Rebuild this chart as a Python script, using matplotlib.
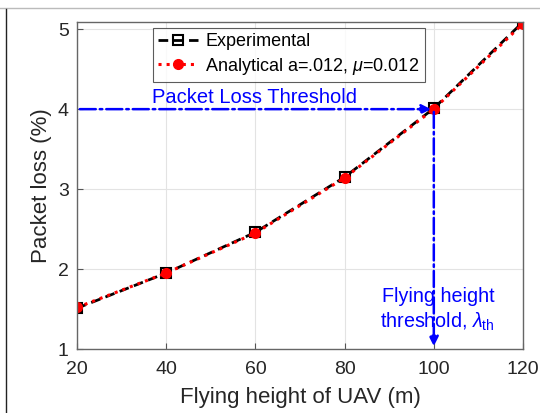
import numpy as np
import matplotlib.pyplot as plt
from matplotlib.lines import Line2D

# datos
altura = [20, 40, 60, 80, 100, 120]
perdida_exp = [1.51, 1.95, 2.46, 3.15, 4.01, 5.09]
perdida_ana = [1.52, 1.95, 2.45, 3.14, 4.00, 5.07]
umbral_perdida = 4.0
umbral_altura = 100

plt.rcParams['font.family'] = ['Liberation Sans', 'DejaVu Sans']
plt.rcParams['mathtext.fontset'] = 'custom'
plt.rcParams['mathtext.it'] = 'Liberation Sans:italic'
plt.rcParams['mathtext.rm'] = 'Liberation Sans'

fig = plt.figure(figsize=(5.4, 4.13), dpi=100)
ax = fig.add_axes([77/540, 1 - 349/413, (523 - 77)/540, (349 - 22)/413])

ax.plot(altura, perdida_exp, 'k--', lw=2, marker='s', ms=7.5, mfc='none', mec='k',
        mew=1.5, label='Experimental', dashes=(3.5, 2))
ax.plot(altura, perdida_ana, ':', color='red', lw=2.2, marker='o', ms=7,
        mfc='red', mec='red', label=r'Analytical a=.012, $\mu$=0.012')

# flechas de umbral
ax.annotate('', xy=(umbral_altura, umbral_perdida), xytext=(20, umbral_perdida),
            arrowprops=dict(arrowstyle='-|>', color='blue', lw=1.8,
                            linestyle='-.', mutation_scale=14))
ax.annotate('', xy=(umbral_altura, 1.0), xytext=(umbral_altura, umbral_perdida),
            arrowprops=dict(arrowstyle='-|>', color='blue', lw=1.8,
                            linestyle='-.', mutation_scale=14))
ax.text(59.7, 4.14, 'Packet Loss Threshold', color='blue', fontsize=14.5,
        ha='center', va='center')
ax.text(100.9, 1.49, 'Flying height\nthreshold, $\\lambda_{\\mathrm{th}}$',
        color='blue', fontsize=14.2, ha='center', va='center', linespacing=1.25)

ax.set_xlim(20, 120)
ax.set_ylim(1, 5.09)
ax.set_xticks([20, 40, 60, 80, 100, 120])
ax.set_yticks([1, 2, 3, 4, 5])
ax.grid(True, color='#e3e3e3', lw=0.8)
ax.set_axisbelow(True)
ax.tick_params(direction='in', labelsize=14, colors='#262626', length=4,
               color='#555555')
ax.tick_params(axis='x', pad=9)
ax.tick_params(axis='y', pad=6)
for s in ax.spines.values():
    s.set_color('#666666')
    s.set_linewidth(1.0)
ax.set_xlabel('Flying height of UAV (m)', fontsize=16, color='#262626', va='center')
ax.set_ylabel('Packet loss (%)', fontsize=16, color='#262626', va='center')
ax.xaxis.set_label_coords(0.5, (349 - 398) / 327)
ax.yaxis.set_label_coords((42 - 77) / 446, 0.5)

leg = ax.legend(loc='upper left', bbox_to_anchor=(0.17, 0.982), fontsize=13,
                frameon=True, fancybox=False, handlelength=2.2,
                borderpad=0.3, labelspacing=0.3, handletextpad=0.4,
                borderaxespad=0)
leg.get_frame().set_edgecolor('#333333')
leg.get_frame().set_linewidth(0.8)

# bordes de la captura
fig.add_artist(Line2D([0, 1], [1 - 8/413, 1 - 8/413], color='#bbbbbb', lw=1))
fig.add_artist(Line2D([6/540, 6/540], [0, 1 - 9/413], color='#222222', lw=1))

fig.savefig('out.png', dpi=100)
